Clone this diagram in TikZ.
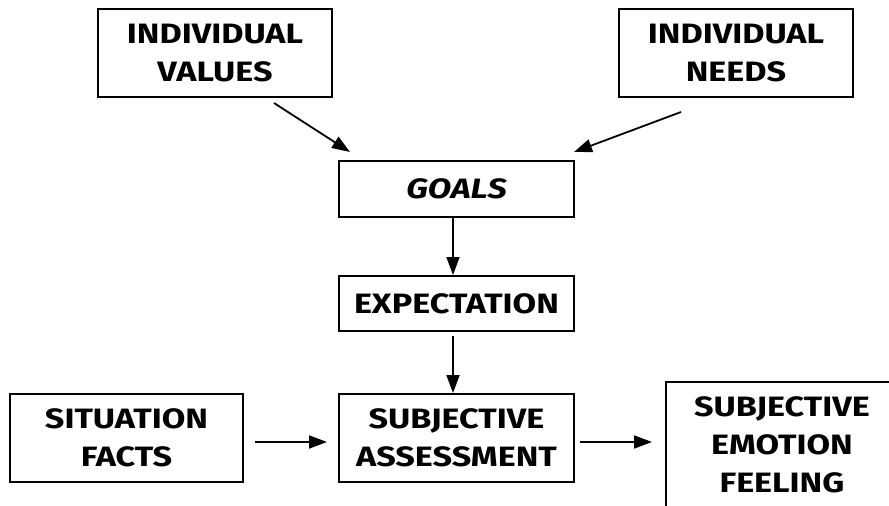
\documentclass[tikz,border=0pt]{standalone}
\usepackage{fontspec}
\newfontfamily\boxfont{Fira Sans}[FakeStretch=1.22]
\usetikzlibrary{arrows.meta}
\begin{document}
\begin{tikzpicture}[x=1pt,y=-1pt,
  box/.style={draw,line width=2pt,inner sep=0pt,align=center,
    font=\boxfont\bfseries\fontsize{28}{38}\selectfont},
  arr/.style={line width=1.8pt,-{Triangle[length=18pt,width=13pt]}}]
\useasboundingbox (0,0) rectangle (889,506);
\clip (0,0) rectangle (889,506);
\fill[white] (0,0) rectangle (889,506);

% concept boxes
\node[box,minimum width=234pt,minimum height=88pt] (val)    at (215,53)    {INDIVIDUAL\\VALUES};
\node[box,minimum width=234pt,minimum height=88pt] (need)   at (736,53)    {INDIVIDUAL\\NEEDS};
\node[box,minimum width=235pt,minimum height=56pt] (goals)  at (456.5,189) {\itshape GOALS};
\node[box,minimum width=235pt,minimum height=55pt] (expect) at (456.5,303.5) {EXPECTATION};
\node[box,minimum width=235pt,minimum height=88pt] (assess) at (456.5,438) {SUBJECTIVE\\ASSESSMENT};
\node[box,minimum width=233pt,minimum height=88pt] (facts)  at (126.5,438) {SITUATION\\FACTS};
\node[box,minimum width=232pt,minimum height=126pt] (emo)   at (782,445)   {SUBJECTIVE\\EMOTION\\FEELING};

% influences
\draw[arr] ([shift={(59,5)}]val.south) -- ([shift={(12,-8)}]goals.north west);
\draw[arr] ([shift={(-55,14)}]need.south) -- ([shift={(-1,-8)}]goals.north east);
\draw[arr] ([xshift=-3.5pt]goals.south) -- ([xshift=-3.5pt]expect.north);
\draw[arr,shorten <=4pt] ([xshift=-3.5pt]expect.south) -- ([xshift=-3.5pt]assess.north);
\draw[arr,shorten <=11pt,shorten >=11pt] ([yshift=-4pt]facts.east) -- ([yshift=-4pt]assess.west);
\draw[arr,shorten <=5pt,shorten >=13pt] ([yshift=-4pt]assess.east) -- ([yshift=-4pt]assess.east -| emo.west);
\end{tikzpicture}
\end{document}
